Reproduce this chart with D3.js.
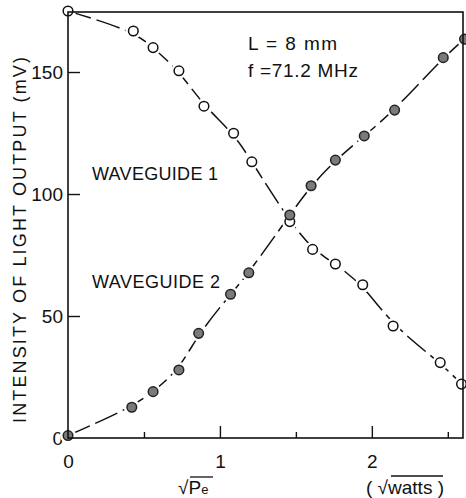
<!DOCTYPE html>
<html>
<head>
<meta charset="utf-8">
<script src="https://cdn.jsdelivr.net/npm/d3@7"></script>
<style>
  body { margin: 0; background: #fff; }
  text { font-family: "Liberation Sans", Arial, sans-serif; fill: #111; }
</style>
</head>
<body>
<svg id="chart" width="466" height="498"></svg>
<script>
// values (sqrt of drive power in sqrt(watts), output in mV)
var wg1_x = [0, 0.43, 0.56, 0.73, 0.895, 1.09, 1.21, 1.46, 1.61, 1.76, 1.94, 2.14, 2.45, 2.59]
var wg1_y = [175, 166.8, 160, 150.5, 136, 124.9, 113.2, 88.7, 77.3, 71.3, 62.8, 45.9, 30.9, 22.1]
var wg2_x = [0, 0.42, 0.56, 0.73, 0.86, 1.07, 1.19, 1.46, 1.60, 1.76, 1.95, 2.15, 2.47, 2.61]
var wg2_y = [1, 12.6, 19, 27.9, 42.9, 58.9, 67.7, 91.4, 103.4, 113.9, 123.8, 134.4, 155.9, 163.5]
var x_major = [0, 1, 2]
var x_minor = [0.5, 1.5, 2.5]
var y_major = [0, 50, 100, 150]

const margin = { top: 12, right: 3, bottom: 60, left: 68 }
const W = 466, H = 498
const iw = W - margin.left - margin.right
const ih = H - margin.top - margin.bottom

var svg = d3.select("#chart")
var g = svg.append("g").attr("transform", "translate(" + margin.left + "," + margin.top + ")")

var x = d3.scaleLinear().domain([0, 2.6]).range([0, iw])
var y = d3.scaleLinear().domain([0, 174.6]).range([ih, 0])

// x ticks (pointing inward)
var xAxis = g.append("g").attr("transform", "translate(0," + ih + ")")
xAxis.call(d3.axisBottom(x).tickValues(x_major).tickSize(-12).tickFormat(d3.format("d")))
xAxis.append("g").call(d3.axisBottom(x).tickValues(x_minor).tickSize(-6).tickFormat(""))
xAxis.selectAll(".domain").remove()
xAxis.selectAll("line").attr("stroke", "#111").attr("stroke-width", 1.4)
xAxis.selectAll("line").filter(d => d === 0).remove()
xAxis.selectAll("text").attr("y", 17).attr("dy", "0.71em")
    .style("font-family", "Liberation Sans, Arial, sans-serif").style("font-size", "19px").attr("fill", "#111")

var yAxis = g.append("g")
yAxis.call(d3.axisLeft(y).tickValues(y_major).tickSize(-12).tickFormat(d3.format("d")))
yAxis.selectAll(".domain").remove()
yAxis.selectAll("line").attr("stroke", "#111").attr("stroke-width", 1.4)
yAxis.selectAll("line").filter(d => d === 0).remove()
yAxis.selectAll("text").attr("x", -5)
    .style("font-family", "Liberation Sans, Arial, sans-serif").style("font-size", "19px").attr("fill", "#111")

// curves through the measured points
var line = d3.line().x(d => x(d[0])).y(d => y(d[1])).curve(d3.curveBasis)
var wg1 = d3.zip(wg1_x, wg1_y)
var wg2 = d3.zip(wg2_x, wg2_y)

;[wg1, wg2].forEach(pts => {
    g.append("path").datum(pts).attr("d", line)
        .attr("fill", "none").attr("stroke", "#111").attr("stroke-width", 1.5)
        .attr("stroke-dasharray", "24,6")
})

// white halo so the lines break around each marker
g.selectAll(".halo").data(wg1.concat(wg2)).enter().append("circle")
    .attr("cx", d => x(d[0])).attr("cy", d => y(d[1])).attr("r", 8).attr("fill", "#fff")

g.selectAll(".wg1").data(wg1).enter().append("circle")
    .attr("cx", d => x(d[0])).attr("cy", d => y(d[1])).attr("r", 4.8)
    .attr("fill", "#fff").attr("stroke", "#111").attr("stroke-width", 1.5)
g.selectAll(".wg2").data(wg2).enter().append("circle")
    .attr("cx", d => x(d[0])).attr("cy", d => y(d[1])).attr("r", 4.8)
    .attr("fill", "#7a7a7a").attr("stroke", "#222").attr("stroke-width", 1.5)

// frame on top so edge markers sit under it
g.append("rect").attr("width", iw).attr("height", ih)
    .attr("fill", "none").attr("stroke", "#111").attr("stroke-width", 1.6)

// annotations
svg.append("text").attr("x", 92).attr("y", 180).style("font-size", "18px")
    .attr("textLength", 126).text("WAVEGUIDE 1")
svg.append("text").attr("x", 92).attr("y", 288).style("font-size", "18px")
    .attr("textLength", 128).text("WAVEGUIDE 2")
svg.append("text").attr("x", 248).attr("y", 50).style("font-size", "19px")
    .attr("textLength", 89).text("L = 8  mm")
svg.append("text").attr("x", 248).attr("y", 77).style("font-size", "19px")
    .attr("textLength", 110).text("f  =71.2 MHz")

// y label
svg.append("text")
    .attr("transform", "translate(26,240) rotate(-90)")
    .attr("text-anchor", "middle")
    .attr("textLength", 366).attr("lengthAdjust", "spacing")
    .style("font-size", "18px")
    .text("INTENSITY OF LIGHT OUTPUT (mV)")

// x labels with radical signs
var lx = svg.append("text").attr("x", 178).attr("y", 494).style("font-size", "19px")
lx.append("tspan").text("\u221A")
lx.append("tspan").text("P")
lx.append("tspan").style("font-size", "13px").text("e")
svg.append("line").attr("x1", 190).attr("x2", 213).attr("y1", 477).attr("y2", 477)
    .attr("stroke", "#111").attr("stroke-width", 1.3)

var ux = svg.append("text").attr("x", 366).attr("y", 494).style("font-size", "19px")
ux.append("tspan").text("( \u221A")
ux.append("tspan").text("watts")
ux.append("tspan").text(" )")
svg.append("line").attr("x1", 391).attr("x2", 443).attr("y1", 476).attr("y2", 476)
    .attr("stroke", "#111").attr("stroke-width", 1.3)
</script>
</body>
</html>
